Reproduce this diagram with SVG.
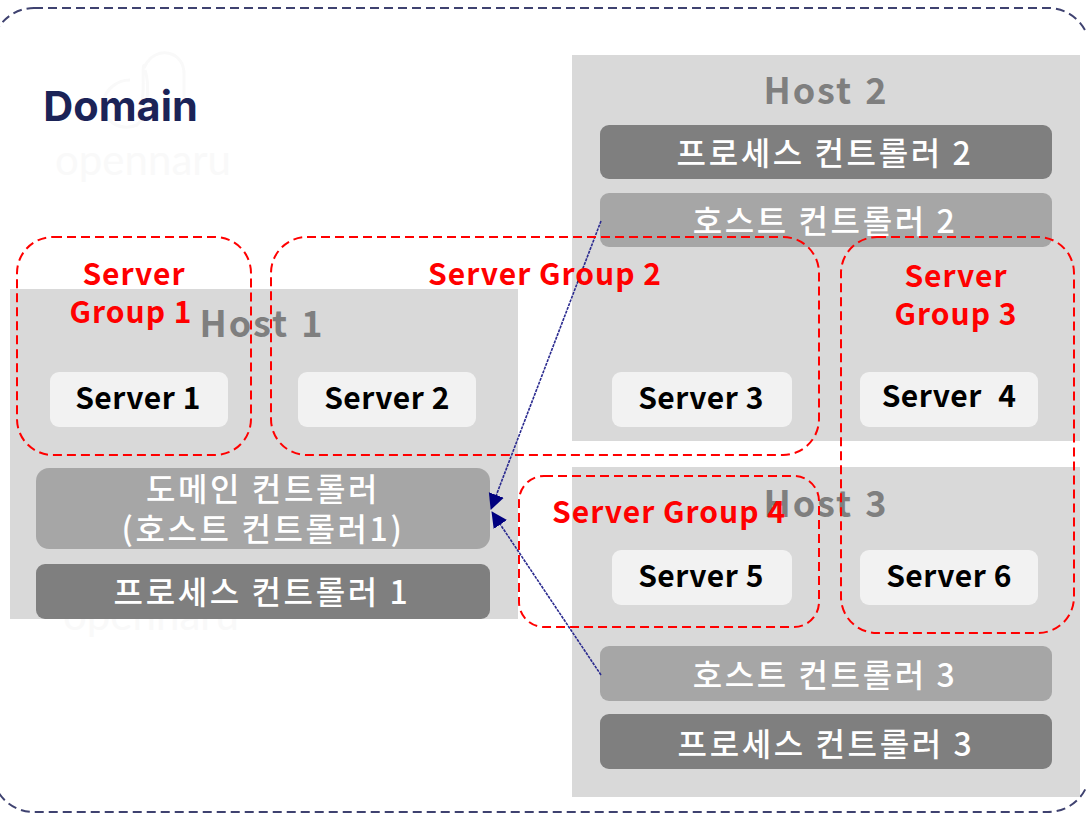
<svg xmlns="http://www.w3.org/2000/svg" width="1086" height="817" viewBox="0 0 1086 817">
<style>
text{font-family:"Noto Sans CJK KR","Noto Sans","Liberation Sans",sans-serif;text-anchor:middle}
.host{fill:#d9d9d9}
.pc{fill:#7f7f7f}
.hc{fill:#a6a6a6}
.srv{fill:#f2f2f2}
.t{font-size:32px;font-weight:500;fill:#fff;letter-spacing:2.6px}
.s{font-size:30px;font-weight:700;fill:#000;letter-spacing:.5px}
.h{font-size:36px;font-weight:700;fill:#7f7f7f;letter-spacing:2px;word-spacing:2px}
.g{fill:none;stroke:#ff0000;stroke-width:2;stroke-dasharray:9 5}
.gt{font-size:30px;font-weight:700;fill:#ff0000;letter-spacing:1px}
.wm{font-size:42px;fill:#f9f9f9;font-family:"Lato",sans-serif}
.c{fill:none;stroke:#2a2a8f;stroke-width:1.6;stroke-dasharray:3 1;marker-end:url(#a)}
</style>
<defs><marker id="a" markerUnits="userSpaceOnUse" markerWidth="17" markerHeight="17" refX="15" refY="8" orient="auto"><path d="M0 0L16 8L0 16Z" fill="#00007f"/></marker></defs>
<rect width="1086" height="817" fill="#fff"/>
<g id="domain"><rect x="-8" y="8" width="1098" height="804" rx="42" fill="none" stroke="#3f4270" stroke-width="2" stroke-dasharray="9 5"/>
<path d="M137 118C148 100 140 60 145 66C155 45 185 50 184 75V98M145 70C150 85 148 115 137 125C120 132 100 120 103 102C106 88 118 80 130 80" fill="none" stroke="#f9f9f9" stroke-width="3"/>
<text x="120.500" y="121" style="font-family:'Inter','Noto Sans',sans-serif;font-size:41.500px;font-weight:700;fill:#1b2357">Domain</text>
<text class="wm" x="143" y="175">opennaru</text><text class="wm" x="151" y="630">opennaru</text></g>
<g id="host1"><rect class="host" x="10" y="289" width="508" height="330"/><text class="h" x="262" y="337">Host 1</text></g>
<g id="host2"><rect class="host" x="572" y="55" width="508" height="386"/><text class="h" x="826" y="104">Host 2</text></g>
<g id="host3"><rect class="host" x="572" y="467" width="508" height="330"/><text class="h" x="826" y="517">Host 3</text></g>
<g id="pc2"><rect class="pc" x="600" y="125" width="452" height="54" rx="9"/><text class="t" x="825" y="165">프로세스 컨트롤러 2</text></g>
<g id="hc2"><rect class="hc" x="600" y="193" width="452" height="54" rx="9"/><text class="t" x="825" y="233">호스트 컨트롤러 2</text></g>
<g id="dc"><rect class="hc" x="36" y="468" width="454" height="81" rx="13"/><text class="t" x="263" y="501">도메인 컨트롤러</text><text class="t" x="263" y="541">(호스트 컨트롤러1)</text></g>
<g id="pc1"><rect class="pc" x="36" y="564" width="454" height="55" rx="9"/><text class="t" x="262" y="604">프로세스 컨트롤러 1</text></g>
<g id="hc3"><rect class="hc" x="600" y="646" width="452" height="55" rx="9"/><text class="t" x="825" y="687">호스트 컨트롤러 3</text></g>
<g id="pc3"><rect class="pc" x="600" y="714" width="452" height="55" rx="9"/><text class="t" x="826" y="756">프로세스 컨트롤러 3</text></g>
<g id="s1"><rect class="srv" x="50" y="372" width="178" height="55" rx="9"/><text class="s" x="138" y="409">Server 1</text></g>
<g id="s2"><rect class="srv" x="298" y="372" width="178" height="55" rx="9"/><text class="s" x="387" y="409">Server 2</text></g>
<g id="s3"><rect class="srv" x="612" y="372" width="180" height="55" rx="9"/><text class="s" x="701" y="409">Server 3</text></g>
<g id="s4"><rect class="srv" x="860" y="372" width="178" height="55" rx="9"/><text class="s" x="949" y="407" style="word-spacing:9px">Server 4</text></g>
<g id="s5"><rect class="srv" x="612" y="550" width="180" height="55" rx="9"/><text class="s" x="701" y="587">Server 5</text></g>
<g id="s6"><rect class="srv" x="860" y="550" width="178" height="55" rx="9"/><text class="s" x="949" y="587">Server 6</text></g>
<g id="connectors"><path class="c" d="M601 221L491 509"/><path class="c" d="M601 675L492 512"/></g>
<g id="group1"><rect class="g" x="17" y="237" width="234" height="218" rx="36"/><text class="gt" x="134" y="285">Server</text><text class="gt" x="131" y="323">Group 1</text></g>
<g id="group2"><rect class="g" x="271" y="237" width="548" height="218" rx="36"/><text class="gt" x="545" y="285">Server Group 2</text></g>
<g id="group3"><rect class="g" x="841" y="237" width="233" height="396" rx="36"/><text class="gt" x="956" y="287">Server</text><text class="gt" x="956" y="325">Group 3</text></g>
<g id="group4"><rect class="g" x="519" y="476" width="300" height="151" rx="25"/><text class="gt" x="669" y="523">Server Group 4</text></g>
</svg>
